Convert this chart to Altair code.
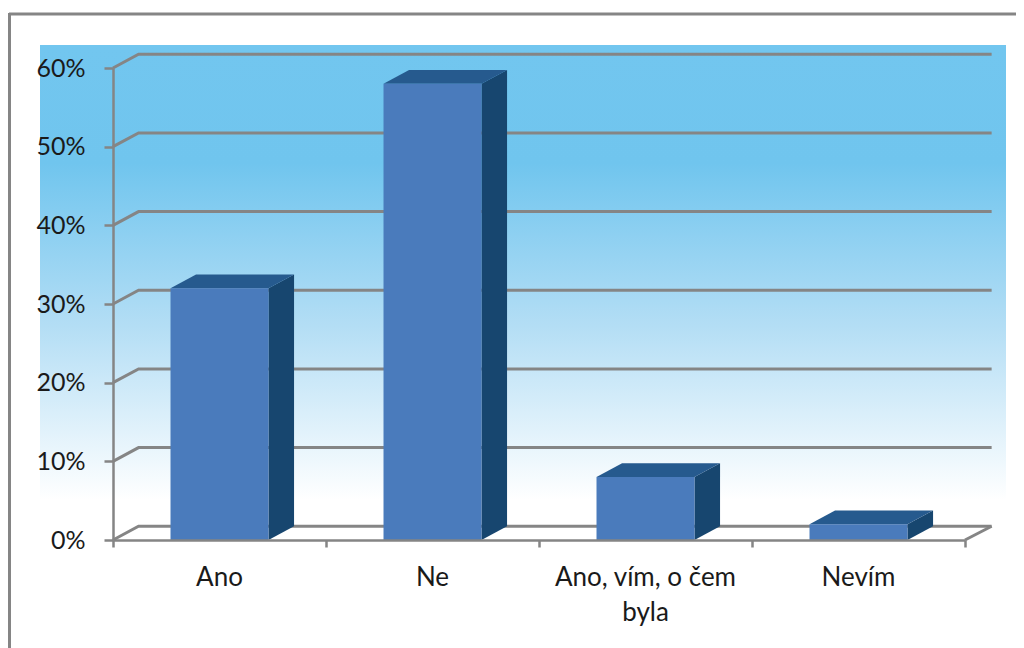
import altair as alt
import pandas as pd

categories = ["Ano", "Ne", "Ano, vím, o čem\nbyla", "Nevím"]
values = [32, 58, 8, 2]
y_ticks = [0, 10, 20, 30, 40, 50, 60]
x_ticks = [0, 1, 2, 3, 4]

BAR_W = 0.46
DX = 0.12
DY = 1.75
XS = alt.Scale(domain=[0, 4], range=[105, 957])
YS = alt.Scale(domain=[0, 60], range=[532, 60])
GRAY = "#858585"
FRONT, TOP, SIDE = "#4A7BBC", "#265A8E", "#17466F"
FONT = "Lato"

rows_front, rows_side, rows_top = [], [], []
for i, (c, v) in enumerate(zip(categories, values)):
    l, r = i + 0.5 - BAR_W / 2, i + 0.5 + BAR_W / 2
    rows_front.append(dict(cat=c, x=l, x2=r, y=0, y2=v))
    rows_side += [dict(cat=c, x=r, y=0, y2=v), dict(cat=c, x=r + DX, y=DY, y2=v + DY)]
    rows_top += [dict(cat=c, x=l, x2=r, y=v), dict(cat=c, x=l + DX, x2=r + DX, y=v + DY)]

grid_rows = []
for t in y_ticks:
    grid_rows += [dict(t=t, x=0, y=t), dict(t=t, x=DX, y=t + DY), dict(t=t, x=4 + DX + 0.005, y=t + DY)]
floor_rows = [dict(t="e", x=4, y=0), dict(t="e", x=4 + DX + 0.005, y=DY)]

x_axis = alt.Axis(
    values=x_ticks, labels=False, title=None, grid=False, offset=-108, zindex=1,
    domainColor=GRAY, domainWidth=2.5, tickColor=GRAY, tickWidth=2.5, tickSize=7)
y_axis = alt.Axis(
    values=y_ticks, title=None, grid=False, offset=-105, zindex=1, labelExpr="datum.value + '%'",
    domainColor=GRAY, domainWidth=2.5, tickColor=GRAY, tickWidth=2.5, tickSize=9,
    labelFont=FONT, labelFontSize=25, labelColor="#1A1A1A", labelPadding=19)

X = lambda f="x": alt.X(f"{f}:Q", scale=XS, axis=x_axis, stack=None)
Y = lambda f="y": alt.Y(f"{f}:Q", scale=YS, axis=y_axis, stack=None)

one = pd.DataFrame({"a": [0]})
frame_top = alt.Chart(one).mark_rule(color=GRAY, strokeWidth=3).encode(
    x=alt.value(1), x2=alt.value(1008), y=alt.value(6))
frame_left = alt.Chart(one).mark_rule(color=GRAY, strokeWidth=3).encode(
    x=alt.value(1.5), y=alt.value(5), y2=alt.value(640))

backdrop = alt.Chart(one).mark_rect(
    color=alt.Gradient(
        gradient="linear", x1=0, y1=0, x2=0, y2=1,
        stops=[
            alt.GradientStop(offset=0, color="#72C6EF"),
            alt.GradientStop(offset=0.26, color="#70C5EE"),
            alt.GradientStop(offset=0.62, color="#B4DEF5"),
            alt.GradientStop(offset=1, color="#FFFFFF"),
        ],
    )
).encode(x=alt.value(32), x2=alt.value(998), y=alt.value(37), y2=alt.value(492))

grid = alt.Chart(pd.DataFrame(grid_rows)).mark_line(color=GRAY, strokeWidth=3).encode(
    x=X(), y=Y(), detail="t:N", order=alt.Order("x:Q"))
floor_edge = alt.Chart(pd.DataFrame(floor_rows)).mark_line(color=GRAY, strokeWidth=3).encode(x=X(), y=Y())

front = alt.Chart(pd.DataFrame(rows_front)).mark_rect(color=FRONT).encode(
    x=X(), x2="x2:Q", y=Y(), y2="y2:Q")
side = alt.Chart(pd.DataFrame(rows_side)).mark_area(color=SIDE).encode(
    x=X(), y=Y(), y2="y2:Q", detail="cat:N")
top = alt.Chart(pd.DataFrame(rows_top)).mark_area(color=TOP, orient="horizontal").encode(
    y=Y(), x=X(), x2="x2:Q", detail="cat:N")

lab_df = pd.DataFrame({"x": [i + 0.5 for i in range(4)], "y": [0] * 4, "t": categories})
labels = alt.Chart(lab_df).mark_text(
    font=FONT, fontSize=26, color="#1A1A1A", baseline="top", dy=25, lineBreak="\n", lineHeight=35
).encode(x=X(), y=Y(), text="t:N")

chart = alt.layer(
    backdrop, frame_top, frame_left, grid, floor_edge, side, top, front, labels
).properties(width=1008, height=640, padding=0, autosize="none", background="#FFFFFF"
).configure_view(strokeWidth=0)

chart.save("out.html", embed_options={"renderer": "svg", "actions": False})
